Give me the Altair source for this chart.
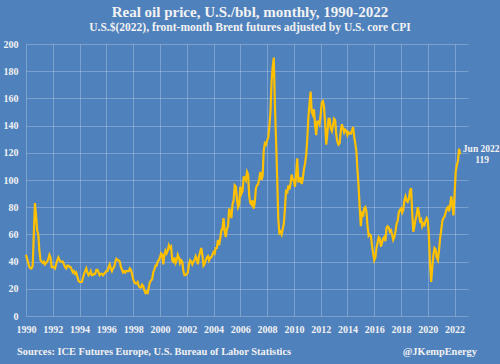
import altair as alt
import pandas as pd

# Monthly real Brent price, US$(2022)/bbl
prices_1990s = [
    45, 42, 39, 36, 35, 35, 37, 60, 83, 74, 63, 60,   # 1990
    48, 41, 40, 39, 40, 38, 39, 40, 42, 45, 43, 36,   # 1991
    36, 36, 35, 38, 41, 43, 41, 40, 40, 40, 38, 36,   # 1992
    35, 37, 37, 36, 36, 34, 32, 33, 31, 32, 29, 26,   # 1993
    25, 25, 25, 28, 31, 33, 35, 32, 30, 31, 33, 30,   # 1994
    30, 31, 31, 34, 34, 32, 30, 31, 31, 30, 31, 32,   # 1995
    33, 33, 36, 38, 35, 33, 35, 36, 40, 42, 41, 41,   # 1996
    40, 36, 34, 32, 33, 32, 33, 33, 33, 35, 34, 31,   # 1997
    27, 25, 24, 24, 25, 22, 21, 21, 23, 22, 19, 17,   # 1998
    18, 17, 21, 25, 26, 27, 32, 34, 37, 37, 40, 41,   # 1999
]
prices_2000s = [
    43, 46, 45, 38, 45, 48, 46, 48, 52, 50, 51, 41,   # 2000
    40, 43, 39, 41, 45, 43, 39, 41, 40, 33, 30, 30,   # 2001
    31, 32, 38, 41, 40, 38, 40, 41, 44, 42, 38, 44,   # 2002
    47, 50, 45, 37, 38, 41, 43, 44, 41, 43, 43, 45,   # 2003
    47, 46, 50, 50, 56, 52, 57, 63, 64, 72, 62, 58,   # 2004
    64, 66, 79, 76, 72, 82, 85, 96, 95, 86, 80, 82,   # 2005
    95, 90, 92, 102, 102, 100, 106, 104, 88, 83, 82, 85,   # 2006
    79, 84, 94, 96, 97, 101, 106, 100, 103, 122, 127, 126,  # 2007
    129, 131, 139, 150, 172, 183, 190, 155, 130, 103, 72, 61,  # 2008
    62, 60, 64, 68, 79, 93, 90, 96, 93, 97, 104, 100,  # 2009
]
prices_2010s = [
    100, 95, 104, 116, 99, 99, 102, 97, 101, 108, 112, 118,   # 2010
    130, 146, 156, 165, 150, 148, 152, 140, 133, 143, 143, 141,  # 2011
    148, 157, 158, 154, 142, 126, 134, 145, 145, 138, 136, 140,  # 2012
    145, 144, 133, 128, 126, 127, 136, 141, 138, 135, 137, 136,  # 2013
    133, 135, 134, 134, 136, 139, 132, 127, 121, 107, 95, 79,    # 2014
    66, 77, 73, 79, 80, 77, 66, 59, 60, 59, 52, 46,   # 2015
    41, 43, 50, 54, 58, 57, 51, 54, 57, 58, 55, 65,   # 2016
    66, 65, 62, 63, 60, 56, 58, 62, 68, 70, 76, 78,   # 2017
    79, 76, 78, 85, 88, 85, 84, 86, 92, 94, 76, 62,   # 2018
    66, 71, 74, 80, 76, 70, 71, 66, 68, 67, 70, 72,   # 2019
]
prices_2020s = [
    70, 58, 38, 25, 36, 45, 50, 49, 43, 41, 48, 57,   # 2020
    63, 70, 72, 73, 76, 79, 80, 77, 81, 88, 82, 74,   # 2021
    90, 106, 111, 114, 123, 119,                      # 2022 (Jan-Jun)
]

month_names = ["Jan", "Feb", "Mar", "Apr", "May", "Jun",
               "Jul", "Aug", "Sep", "Oct", "Nov", "Dec"]
x_ticks = list(range(1990, 2023, 2))
y_ticks = list(range(0, 201, 20))

title_text = "Real oil price, U.S./bbl, monthly, 1990-2022"
subtitle_text = "U.S.$(2022), front-month Brent futures adjusted by U.S. core CPI"
source_text = "Sources: ICE Futures Europe, U.S. Bureau of Labor Statistics"
handle_text = "@JKempEnergy"

values = prices_1990s + prices_2000s + prices_2010s + prices_2020s
t = [1990 + i / 12 for i in range(len(values))]
df = pd.DataFrame({"t": t, "price": values})
n = len(values) - 1
last = pd.DataFrame({
    "t": [t[n]],
    "price": [values[n]],
    "label": [f"{month_names[n % 12]} {1990 + n // 12}"],
})

BG = "#4F81BD"
TXT = "#F2F2F2"
FONT = "Liberation Serif"

x_enc = alt.X("t:Q",
              scale=alt.Scale(domain=[1990, 2023], nice=False, zero=False),
              axis=alt.Axis(values=x_ticks, format="d", title=None,
                            labelFlush=False, labelOverlap=False,
                            labelPadding=8, domain=False, ticks=False,
                            grid=True))
y_enc = alt.Y("price:Q",
              scale=alt.Scale(domain=[0, 200], nice=False),
              axis=alt.Axis(values=y_ticks, title=None, labelPadding=8,
                            labelOverlap=False, domain=False, ticks=False,
                            grid=True))

line = alt.Chart(df).mark_line(color="#FFC000", strokeWidth=2.2).encode(
    x=x_enc, y=y_enc)

ann_top = alt.Chart(last).mark_text(
    align="center", baseline="middle", dx=21, dy=-5, font=FONT,
    fontSize=9.5, fontWeight="bold", color=TXT).encode(
    x=x_enc, y=y_enc, text="label:N")
ann_bot = alt.Chart(last).mark_text(
    align="center", baseline="middle", dx=22, dy=6, font=FONT,
    fontSize=9.5, fontWeight="bold", color=TXT).encode(
    x=x_enc, y=y_enc, text=alt.Text("price:Q", format="d"))

src = alt.Chart(pd.DataFrame({"note": [source_text]})).mark_text(
    align="left", baseline="middle", font=FONT, fontSize=10.4,
    fontWeight="bold", color=TXT).encode(
    x=alt.value(-9), y=alt.value(308), text="note:N")
handle = alt.Chart(pd.DataFrame({"note": [handle_text]})).mark_text(
    align="right", baseline="middle", font=FONT, fontSize=10.4,
    fontWeight="bold", color=TXT).encode(
    x=alt.value(451), y=alt.value(308), text="note:N")

chart = alt.layer(line, ann_top, ann_bot, src, handle).properties(
    width=442, height=272,
    autosize=alt.AutoSizeParams(type="none"),
    padding={"left": 26, "top": 44, "right": 32, "bottom": 48},
    background=BG,
    title=alt.TitleParams(
        text=title_text, subtitle=subtitle_text,
        font=FONT, fontSize=15, fontWeight="bold", color=TXT,
        subtitleFont=FONT, subtitleFontSize=11.5, subtitleFontWeight="bold",
        subtitleColor=TXT, subtitlePadding=2, anchor="middle",
        offset=6, dx=3),
).configure_view(stroke=None).configure_axis(
    labelFont=FONT, labelFontSize=10, labelFontWeight="bold",
    labelColor=TXT, gridColor="#FFFFFF", gridOpacity=0.25, gridWidth=1)

chart.save("out.html", embed_options={"renderer": "svg", "actions": False,
                                      "defaultStyle": "body{margin:0;background:#4F81BD}"})
